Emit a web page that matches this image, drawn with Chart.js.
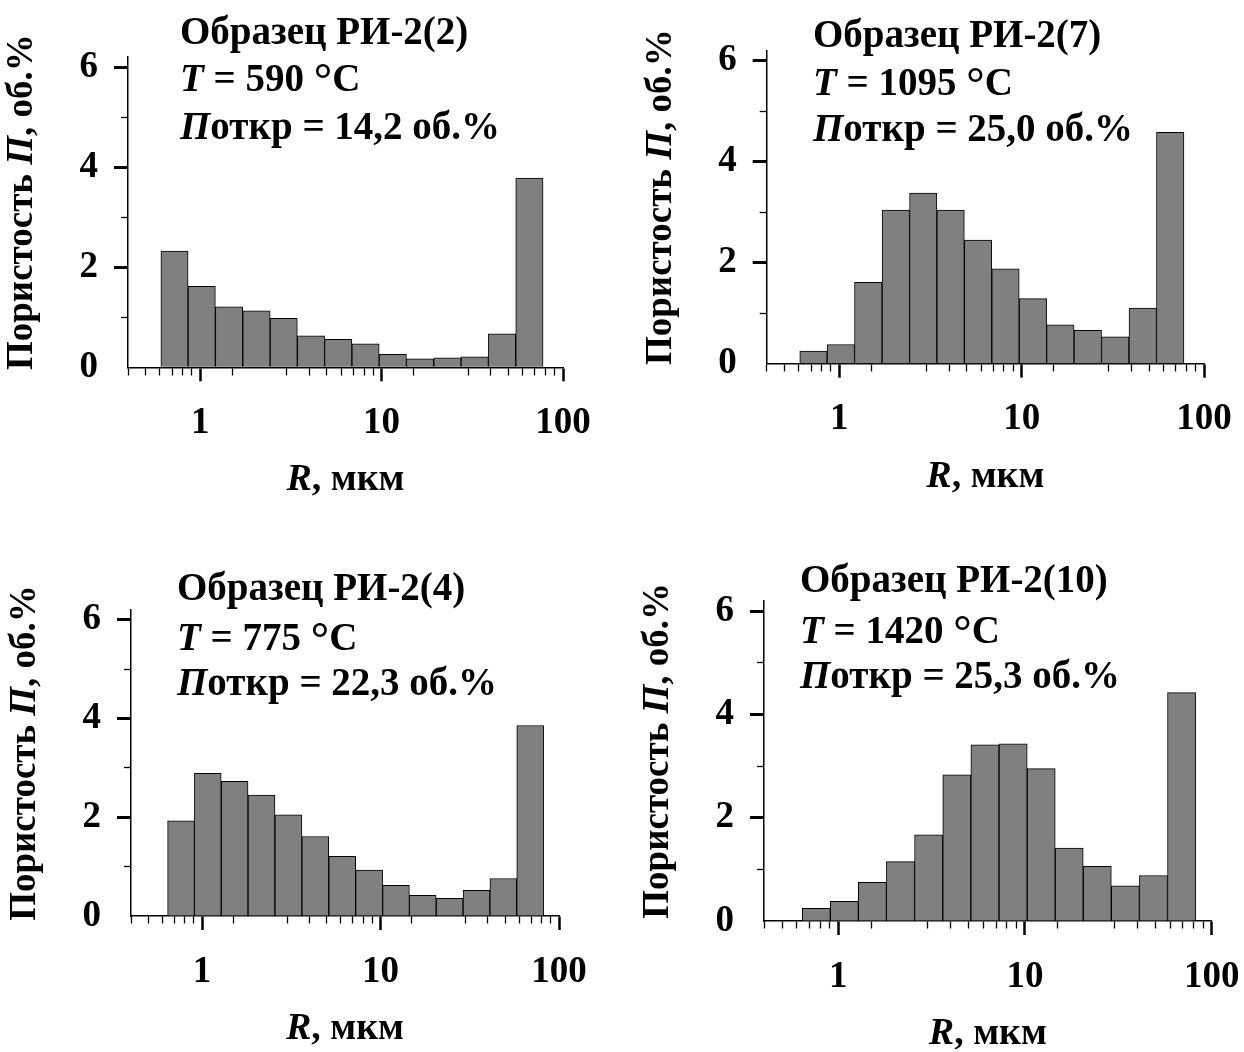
<!DOCTYPE html>
<html>
<head>
<meta charset="utf-8">
<script src="https://cdn.jsdelivr.net/npm/chart.js@4.4.0/dist/chart.umd.min.js"></script>
<style>
html, body { margin: 0; padding: 0; background: #fff; overflow: hidden; }
#wrap { position: relative; width: 1244px; height: 1052px; background: #fff; }
canvas { position: absolute; }
</style>
</head>
<body>
<div id="wrap">
  <canvas id="c1" width="622" height="526" style="left:0px;top:0px"></canvas>
  <canvas id="c2" width="622" height="526" style="left:622px;top:0px"></canvas>
  <canvas id="c3" width="622" height="526" style="left:0px;top:526px"></canvas>
  <canvas id="c4" width="622" height="526" style="left:622px;top:526px"></canvas>
</div>
<script>
// ---------------- DATA ----------------
// Pore-radius bin edges R, мкм
const binEdgesTop    = [0.607, 0.858, 1.21, 1.72, 2.43, 3.43, 4.85, 6.86, 9.7, 13.7, 19.4, 27.4, 38.8, 54.9, 77.6];
const binEdgesBottom = [0.641, 0.907, 1.28, 1.81, 2.56, 3.63, 5.13, 7.25, 10.3, 14.5, 20.5, 29.0, 41.0, 58.0, 82.0];

// Porosity П, об.% per bin
const poreRI2_2  = [2.32, 1.62, 1.21, 1.13, 0.98, 0.63, 0.56, 0.47, 0.26, 0.17, 0.19, 0.21, 0.67, 3.78];
const poreRI2_7  = [0.25, 0.38, 1.61, 3.04, 3.38, 3.04, 2.45, 1.88, 1.29, 0.77, 0.66, 0.53, 1.10, 4.58];
const poreRI2_4  = [1.93, 2.89, 2.73, 2.45, 2.05, 1.61, 1.21, 0.93, 0.62, 0.42, 0.36, 0.52, 0.76, 3.86];
const poreRI2_10 = [0.245, 0.38, 0.75, 1.15, 1.67, 2.83, 3.41, 3.43, 2.95, 1.41, 1.06, 0.68, 0.88, 4.42];

const sampleNames  = ['Образец РИ-2(2)', 'Образец РИ-2(7)', 'Образец РИ-2(4)', 'Образец РИ-2(10)'];
const temperatures = ['590', '1095', '775', '1420'];
const openPorosity = ['14,2', '25,0', '22,3', '25,3'];

// Axis ticks
const xTickValues = [0.4, 0.5, 0.6, 0.7, 0.8, 0.9, 1, 1.5, 3, 4, 5, 6, 7, 8, 9, 10, 15, 30, 40, 50, 60, 70, 80, 90, 100];
const xMajorTicks = [1, 10, 100];
const xTickLabels = ['1', '10', '100'];
const yTickValues = [0, 1, 2, 3, 4, 5, 6];
const yMajorTicks = [0, 2, 4, 6];
const yTickLabels = ['0', '2', '4', '6'];

const xAxisTitle = ['R', ', мкм'];
const yAxisTitle = ['Пористость ', 'П', ', об.%'];

// ---------------- LAYOUT / STYLE ----------------
const CW = 622, CH = 526, Y_W = 100, X_H = 80;
const FAM = '"Liberation Serif", "Times New Roman", serif';
const F_B  = 'bold 39px ' + FAM;
const F_BI = 'italic bold 39px ' + FAM;
const F_DEG = 'bold 46px ' + FAM;
const F_YB  = 'bold 37px ' + FAM;
const F_YBI = 'italic bold 37px ' + FAM;
const F_XB  = 'bold 38px ' + FAM;
const F_XBI = 'italic bold 38px ' + FAM;

const panels = [
  { id: 'c1', ox: 0,   oy: 0,   edges: binEdgesTop,    values: poreRI2_2,  k: 0,
    area: { left: 128,   right: 563,    top: 57,    bottom: 367.3 }, annX: 180, annY: [44, 91, 139] },
  { id: 'c2', ox: 622, oy: 0,   edges: binEdgesTop,    values: poreRI2_7,  k: 1,
    area: { left: 766.7, right: 1204,   top: 50.6,  bottom: 363.7 }, annX: 813, annY: [47, 95, 141] },
  { id: 'c3', ox: 0,   oy: 526, edges: binEdgesBottom, values: poreRI2_4,  k: 2,
    area: { left: 131,   right: 559,    top: 610,   bottom: 916 },   annX: 177, annY: [600, 650, 695] },
  { id: 'c4', ox: 622, oy: 526, edges: binEdgesBottom, values: poreRI2_10, k: 3,
    area: { left: 764,   right: 1211.7, top: 600.7, bottom: 921 },   annX: 800, annY: [592, 643, 688] }
];

function segWidth(ctx, segs) {
  let w = 0;
  for (const s of segs) { ctx.font = s.f; w += ctx.measureText(s.t).width; }
  return w;
}
function drawSegs(ctx, segs, x, y) {
  for (const s of segs) {
    ctx.font = s.f;
    ctx.fillText(s.t, x, y + (s.dy || 0));
    x += ctx.measureText(s.t).width;
  }
}

const richText = {
  id: 'richText',
  afterDraw(chart, args, opts) {
    const p = opts.panel;
    const ctx = chart.ctx;
    const ca = chart.chartArea;
    ctx.save();
    ctx.fillStyle = '#000';
    ctx.textBaseline = 'alphabetic';
    ctx.textAlign = 'left';
    const lines = [
      [{ t: sampleNames[p.k], f: F_B }],
      [{ t: 'T', f: F_BI }, { t: ' = ' + temperatures[p.k] + ' ', f: F_B }, { t: '°', f: F_DEG, dy: 4 }, { t: 'C', f: F_B }],
      [{ t: 'П', f: F_BI }, { t: 'откр', f: F_B }, { t: ' = ' + openPorosity[p.k] + ' об.%', f: F_B }]
    ];
    lines.forEach((segs, i) => drawSegs(ctx, segs, p.annX - p.ox, p.annY[i] - p.oy));

    const xSegs = [{ t: xAxisTitle[0], f: F_XBI }, { t: xAxisTitle[1], f: F_XB }];
    const xw = segWidth(ctx, xSegs);
    drawSegs(ctx, xSegs, (ca.left + ca.right) / 2 - xw / 2, ca.bottom + 123);

    const ySegs = [{ t: yAxisTitle[0], f: F_YB }, { t: yAxisTitle[1], f: F_YBI }, { t: yAxisTitle[2], f: F_YB }];
    const yw = segWidth(ctx, ySegs);
    ctx.translate(ca.left - 96, (ca.top + ca.bottom) / 2 - 10);
    ctx.rotate(-Math.PI / 2);
    drawSegs(ctx, ySegs, -yw / 2, 0);
    ctx.restore();
  }
};

function isIn(list, v) { return list.some(m => Math.abs(m - v) < 1e-9); }

panels.forEach(p => {
  const centers = [];
  for (let i = 0; i < p.edges.length - 1; i++) centers.push(Math.sqrt(p.edges[i] * p.edges[i + 1]));
  const data = p.values.map((v, i) => ({ x: centers[i], y: v }));
  const a = p.area;
  const pad = {
    left: a.left - p.ox - Y_W,
    right: CW - (a.right - p.ox),
    top: a.top - p.oy,
    bottom: CH - (a.bottom - p.oy) - X_H
  };
  new Chart(document.getElementById(p.id), {
    type: 'bar',
    data: {
      datasets: [{
        data: data,
        backgroundColor: '#808080',
        borderColor: '#000',
        borderWidth: 1,
        barThickness: 'flex',
        barPercentage: 1,
        categoryPercentage: 1
      }]
    },
    plugins: [richText],
    options: {
      responsive: false,
      animation: false,
      devicePixelRatio: 1,
      layout: { padding: pad },
      plugins: {
        legend: { display: false },
        tooltip: { enabled: false },
        title: { display: false },
        richText: { panel: p }
      },
      scales: {
        x: {
          type: 'logarithmic',
          min: 0.4, max: 100,
          offset: false,
          z: 1,
          afterBuildTicks: s => { s.ticks = xTickValues.map(v => ({ value: v })); },
          afterFit: s => { s.height = X_H; s.paddingLeft = 0; s.paddingRight = 0; },
          border: { display: true, color: '#000', width: 1.5 },
          grid: {
            offset: false,
            drawOnChartArea: false,
            drawTicks: true,
            tickLength: 14,
            tickColor: '#000',
            tickWidth: c => (c.tick && isIn(xMajorTicks, c.tick.value)) ? 2.5 : 1.3,
            tickBorderDash: c => (c.tick && isIn(xMajorTicks, c.tick.value)) ? [] : [7, 30],
            tickBorderDashOffset: 0
          },
          ticks: {
            autoSkip: false,
            maxRotation: 0,
            minRotation: 0,
            padding: 20,
            color: '#000',
            font: { family: FAM, size: 37, weight: 'bold' },
            callback: v => {
              const i = xMajorTicks.findIndex(m => Math.abs(m - v) < 1e-9);
              return i >= 0 ? xTickLabels[i] : '';
            }
          }
        },
        y: {
          type: 'linear',
          min: 0, max: 6.2,
          z: 1,
          afterBuildTicks: s => { s.ticks = yTickValues.map(v => ({ value: v })); },
          afterFit: s => { s.width = Y_W; s.paddingTop = 0; s.paddingBottom = 0; },
          border: { display: true, color: '#000', width: 1.5 },
          grid: {
            drawOnChartArea: false,
            drawTicks: true,
            tickLength: 14,
            tickColor: c => (c.tick && c.tick.value === 0) ? 'rgba(0,0,0,0)' : '#000',
            tickWidth: c => (c.tick && isIn(yMajorTicks, c.tick.value)) ? 3 : 1.3,
            tickBorderDash: c => (c.tick && isIn(yMajorTicks, c.tick.value)) ? [] : [7, 7],
            tickBorderDashOffset: c => (c.tick && isIn(yMajorTicks, c.tick.value)) ? 0 : 7
          },
          ticks: {
            autoSkip: false,
            padding: 16,
            color: '#000',
            font: { family: FAM, size: 37, weight: 'bold' },
            callback: v => {
              const i = yMajorTicks.findIndex(m => Math.abs(m - v) < 1e-9);
              return i >= 0 ? yTickLabels[i] : '';
            }
          }
        }
      }
    }
  });
});
</script>
</body>
</html>
